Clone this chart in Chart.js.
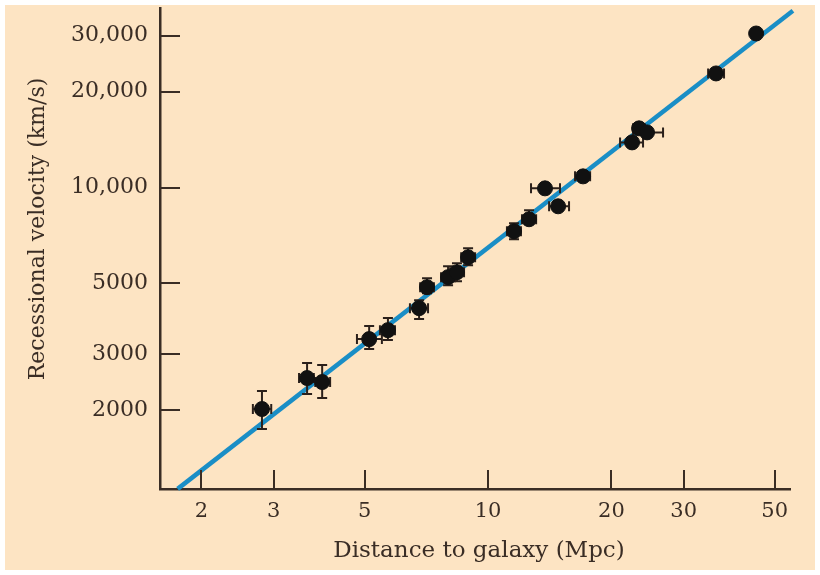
<!DOCTYPE html>
<html>
<head>
<meta charset="utf-8">
<script src="https://cdn.jsdelivr.net/npm/chart.js@4.4.1/dist/chart.umd.min.js"></script>
<style>
  html, body { margin: 0; padding: 0; background: #fff; }
  #wrap { width: 820px; height: 575px; }
</style>
</head>
<body>
<div id="wrap"><canvas id="hubble" width="820" height="575"></canvas></div>
<script>
// --- Data (Mpc, km/s) ---
const distance = [2.81, 3.62, 3.94, 5.13, 5.70, 6.79, 7.10, 7.99, 8.40, 8.94, 11.57, 12.59, 13.77, 14.82, 17.05, 22.45, 23.35, 24.42, 35.98, 45.06];
const velocity = [2015, 2521, 2449, 3341, 3565, 4180, 4864, 5229, 5420, 6040, 7290, 7950, 9940, 8730, 10840, 13860, 15340, 14900, 22820, 30460];

// error bar ends (null = no visible bar)
const distLow  = [2.67, 3.46, 3.79, 4.79, 5.45, 6.45, 6.83, 7.68, 8.08, 8.60, 11.12, 12.10, 12.73, 14.09, 16.30, 20.99, 22.58, 22.58, 34.41, null];
const distHigh = [2.96, 3.76, 4.12, 5.51, 5.93, 7.14, 7.38, 8.31, 8.74, 9.30, 12.03, 13.10, 14.98, 15.76, 17.74, 23.88, 24.10, 26.72, 37.63, null];
const velLow   = [1745, 2245, 2182, 3108, 3318, 3861, 4658, 4935, 5080, 5702, 6879, 7666, null, null, null, null, null, null, null, null];
const velHigh  = [2295, 2809, 2769, 3670, 3890, 4426, 5193, 5662, 5785, 6450, 7722, 8484, null, null, null, null, null, null, null, null];

// best-fit line ends
const fitDistance = [1.75, 55.4];
const fitVelocity = [1131, 35900];

// --- Axis ticks ---
const xTicks = [2, 3, 5, 10, 20, 30, 50];
const yTicks = [2000, 3000, 5000, 10000, 20000, 30000];
const yTickLabels = ['2000', '3000', '5000', '10,000', '20,000', '30,000'];

const ink = '#3a2d25';
const serif = "'DejaVu Serif', serif";

// cream panel + titles + inward tick marks + error bars
const paperPlugin = {
    id: 'paper',
    beforeDraw(chart) {
        const c = chart.ctx;
        c.save();
        c.fillStyle = '#fde4c3';
        c.fillRect(5, 5, 810, 565);
        c.restore();
    },
    beforeDatasetDraw(chart, args) {
        if (args.index !== 0) return;
        const c = chart.ctx, xs = chart.scales.x, ys = chart.scales.y;
        c.save();
        c.strokeStyle = '#2b201b';
        c.lineWidth = 2;
        distance.forEach((d, i) => {
            const px = xs.getPixelForValue(d), py = ys.getPixelForValue(velocity[i]);
            c.beginPath();
            if (distLow[i] != null) {
                const a = xs.getPixelForValue(distLow[i]), b = xs.getPixelForValue(distHigh[i]);
                c.moveTo(a, py); c.lineTo(b, py);
                c.moveTo(a, py - 5); c.lineTo(a, py + 5);
                c.moveTo(b, py - 5); c.lineTo(b, py + 5);
            }
            if (velLow[i] != null) {
                const a = ys.getPixelForValue(velLow[i]), b = ys.getPixelForValue(velHigh[i]);
                c.moveTo(px, a); c.lineTo(px, b);
                c.moveTo(px - 5, a); c.lineTo(px + 5, a);
                c.moveTo(px - 5, b); c.lineTo(px + 5, b);
            }
            c.stroke();
        });
        c.restore();
    },
    afterDraw(chart) {
        const c = chart.ctx, xs = chart.scales.x, ys = chart.scales.y, area = chart.chartArea;
        c.save();
        c.strokeStyle = ink;
        c.lineWidth = 2;
        c.beginPath();
        xTicks.forEach(v => {
            const p = Math.round(xs.getPixelForValue(v));
            c.moveTo(p, area.bottom); c.lineTo(p, area.bottom - 19);
        });
        yTicks.forEach(v => {
            const p = Math.round(ys.getPixelForValue(v));
            c.moveTo(area.left, p); c.lineTo(area.left + 20, p);
        });
        c.stroke();

        c.fillStyle = ink;
        c.textAlign = 'center';
        c.textBaseline = 'middle';
        c.font = '23px ' + serif;
        c.fillText('Distance to galaxy (Mpc)', 479, 551);
        c.font = '22px ' + serif;
        c.translate(38, 229);
        c.rotate(-Math.PI / 2);
        c.fillText('Recessional velocity (km/s)', 0, 0);
        c.restore();
    }
};

new Chart(document.getElementById('hubble'), {
    type: 'scatter',
    data: {
        datasets: [
            {
                data: distance.map((d, i) => ({ x: d, y: velocity[i] })),
                backgroundColor: '#111',
                borderColor: '#111',
                pointRadius: 7.5,
                pointHoverRadius: 7.5
            },
            {
                data: fitDistance.map((d, i) => ({ x: d, y: fitVelocity[i] })),
                showLine: true,
                borderColor: '#1a8ec6',
                borderWidth: 4.5,
                pointRadius: 0,
                clip: false
            }
        ]
    },
    options: {
        responsive: false,
        animation: false,
        layout: { padding: { top: 8, right: 30, left: 0, bottom: 0 } },
        plugins: { legend: { display: false }, tooltip: { enabled: false } },
        scales: {
            x: {
                type: 'logarithmic',
                min: 1.585,
                max: 54.5,
                afterBuildTicks: s => { s.ticks = xTicks.map(v => ({ value: v })); },
                afterFit: s => { s.height = 86; s.paddingLeft = 0; s.paddingRight = 0; },
                grid: { display: false, drawTicks: false },
                border: { display: true, color: ink, width: 2.5 },
                ticks: {
                    color: ink,
                    font: { family: serif, size: 21 },
                    padding: 10,
                    maxRotation: 0,
                    autoSkip: false,
                    callback: v => String(v)
                }
            },
            y: {
                type: 'logarithmic',
                min: 1130,
                max: 36500,
                afterBuildTicks: s => { s.ticks = yTicks.map(v => ({ value: v })); },
                afterFit: s => { s.width = 160; s.paddingTop = 0; s.paddingBottom = 0; },
                grid: { display: false, drawTicks: false },
                border: { display: true, color: ink, width: 2.5 },
                ticks: {
                    color: ink,
                    font: { family: serif, size: 22 },
                    padding: 12,
                    autoSkip: false,
                    callback: (v, i) => yTickLabels[i]
                }
            }
        }
    },
    plugins: [paperPlugin]
});
</script>
</body>
</html>
